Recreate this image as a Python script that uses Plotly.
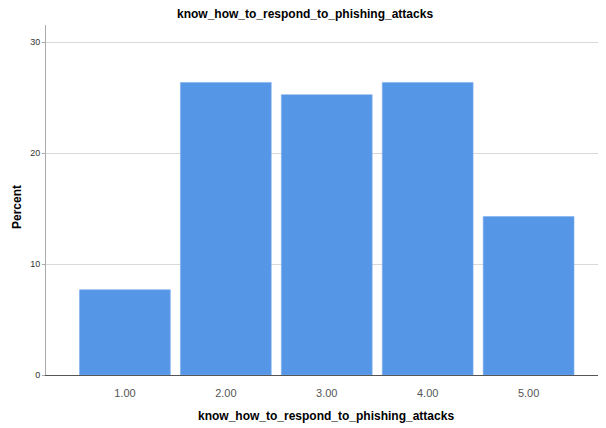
import plotly.graph_objects as go

categories = ["1.00", "2.00", "3.00", "4.00", "5.00"]
percent = [7.69, 26.37, 25.27, 26.37, 14.29]
y_ticks = [0, 10, 20, 30]
title_text = "know_how_to_respond_to_phishing_attacks"

# the page body has an 8px default margin, so the figure is offset by 8px
OFF = 8
W, H = 606 - OFF, 428 - OFF
L, R, T, B = 46 - OFF, 0, 25 - OFF, 53
PW, PH = W - L - R, H - T - B

def px_y(page_y):
    return 1 - (page_y - OFF - T) / PH

def px_x(page_x):
    return (page_x - OFF - L) / PW

fig = go.Figure()
fig.add_trace(go.Bar(
    x=list(range(len(categories))),
    y=percent,
    marker=dict(color="#5596E6", line=dict(color="#7FB0EE", width=0.6)),
    width=0.9,
    hoverinfo="y",
))

fig.update_layout(
    width=W, height=H,
    margin=dict(l=L, r=R, t=T, b=B, autoexpand=False),
    paper_bgcolor="white", plot_bgcolor="white",
    showlegend=False,
    font=dict(family="Liberation Sans, Arial, sans-serif", color="#000"),
    annotations=[
        dict(text="<b>" + title_text + "</b>", xref="paper", yref="paper",
             x=px_x(305), y=px_y(14), xanchor="center", yanchor="middle",
             showarrow=False, font=dict(size=12, color="#000")),
        dict(text="<b>" + title_text + "</b>", xref="paper", yref="paper",
             x=px_x(326), y=px_y(416), xanchor="center", yanchor="middle",
             showarrow=False, font=dict(size=12, color="#000")),
        dict(text="<b>Percent</b>", xref="paper", yref="paper",
             x=px_x(17), y=px_y(207),
             xanchor="center", yanchor="middle", textangle=-90,
             showarrow=False, font=dict(size=12, color="#000")),
    ],
)

fig.update_xaxes(
    range=[-0.782, 4.767],
    tickmode="array",
    tickvals=list(range(len(categories))),
    ticktext=categories,
    tickfont=dict(size=11, color="#555"),
    ticks="outside", ticklen=8, tickcolor="rgba(0,0,0,0)",
    showline=True, linecolor="#555", linewidth=1,
    showgrid=False, zeroline=False, automargin=False,
)

fig.update_yaxes(
    range=[0, 31.55],
    tickmode="array",
    tickvals=y_ticks,
    tickfont=dict(size=9, color="#333"),
    ticks="outside", ticklen=3, tickcolor="#aaa",
    showline=True, linecolor="#aaa", linewidth=1,
    showgrid=True, gridcolor="#d9d9d9", gridwidth=1,
    zeroline=False, automargin=False,
)

fig.write_html("out.html")
